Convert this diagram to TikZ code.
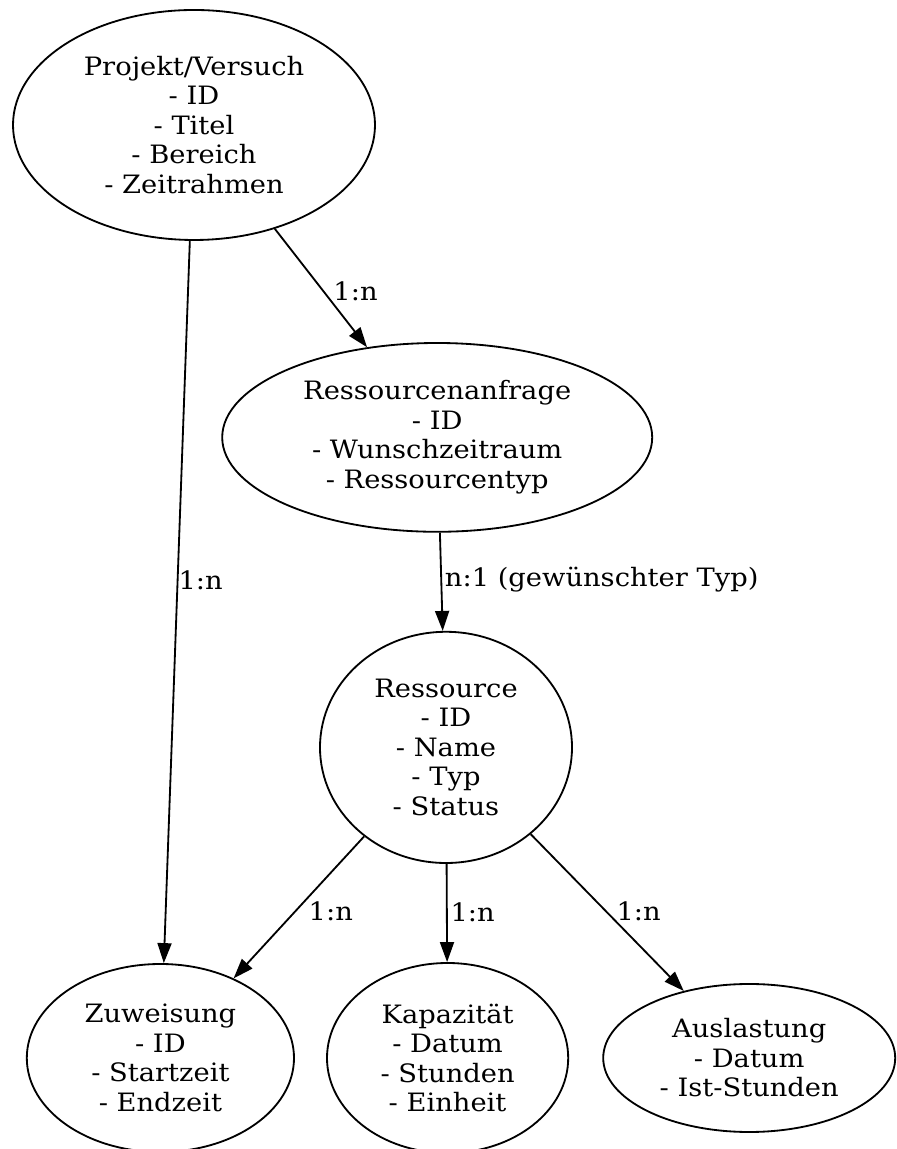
\documentclass[tikz,border=0pt]{standalone}
\usepackage{fontspec}
\setmainfont[FakeStretch=1.08]{DejaVu Serif}
\usetikzlibrary{arrows.meta,positioning,shapes.geometric}
\tikzset{
  >={Triangle[length=5mm,width=3.5mm]},
  entity/.style={ellipse,draw=black,line width=1.3pt,inner sep=0pt,align=center,
    font=\fontsize{18pt}{21pt}\selectfont},
  flow/.style={->,line width=1.3pt,draw=black},
  tag/.style={font=\fontsize{18pt}{21pt}\selectfont,inner sep=0pt,anchor=west},
}
\begin{document}
\begin{tikzpicture}
  \useasboundingbox (0,0) rectangle (22.4,28.725);
  % entities
  \node[entity,minimum width=9.05cm,minimum height=5.75cm] (proj) at (4.85,25.6)
    {Projekt/Versuch\\- ID\\- Titel\\- Bereich\\- Zeitrahmen};
  \node[entity,minimum width=10.75cm,minimum height=4.72cm] (anfr) at (10.93,17.79)
    {Ressourcenanfrage\\- ID\\- Wunschzeitraum\\- Ressourcentyp};
  \node[entity,minimum width=6.3cm,minimum height=5.78cm] (res) at (11.15,10.04)
    {Ressource\\- ID\\- Name\\- Typ\\- Status};
  \node[entity,minimum width=6.68cm,minimum height=4.7cm] (zuw) at (4.01,2.275)
    {Zuweisung\\- ID\\- Startzeit\\- Endzeit};
  \node[entity,minimum width=6.03cm,minimum height=4.75cm] (kap) at (11.19,2.275)
    {Kapazität\\- Datum\\- Stunden\\- Einheit};
  \node[entity,minimum width=7.3cm,minimum height=3.7cm] (ausl) at (18.73,2.275)
    {Auslastung\\- Datum\\- Ist-Stunden};
  % relations
  \draw[flow] (proj) -- node[tag,pos=0.47] {1:n} (zuw);
  \draw[flow] (proj) -- node[tag,pos=0.53,xshift=0.22cm] {1:n} (anfr);
  \draw[flow] (anfr) -- node[tag,pos=0.48,xshift=0.07cm] {n:1 (gewünschter Typ)} (res);
  \draw[flow] (res) -- node[tag,pos=0.53,xshift=0.32cm] {1:n} (zuw);
  \draw[flow] (res) -- node[tag,pos=0.49,xshift=0.07cm] {1:n} (kap);
  \draw[flow] (res) -- node[tag,pos=0.49,xshift=0.25cm] {1:n} (ausl);
\end{tikzpicture}
\end{document}
